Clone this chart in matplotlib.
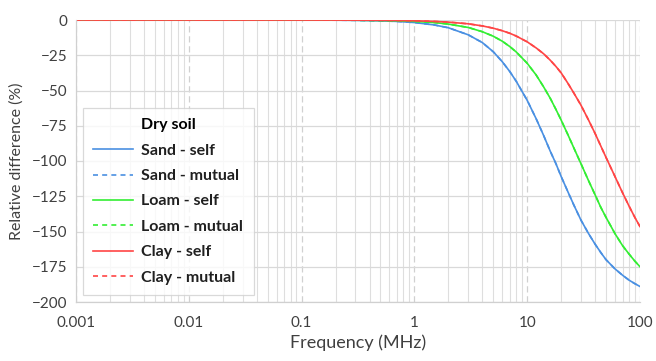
import numpy as np
import matplotlib.pyplot as plt
from matplotlib.ticker import LogLocator

# Frequency grid (MHz) and relative difference (%)
freq = [0.001, 0.003, 0.01, 0.03, 0.1, 0.2, 0.3, 0.5, 0.7, 1, 1.5, 2, 3, 4,
        5, 6, 7, 8, 10, 12, 14, 16, 18, 20, 23, 26, 30, 35, 40, 45, 50, 60,
        70, 80, 90, 100]

sand_self = [0, 0, 0, 0, -0.04, -0.13, -0.25, -0.6, -1.0, -1.8, -3.5, -5.5,
             -10.5, -16, -22.5, -29.5, -36.5, -43.5, -57, -70, -82, -93, -102,
             -111, -122, -131.5, -142, -151.5, -159, -165, -170, -176.5, -181,
             -184.5, -187, -189]
sand_mutual = [0, 0, 0, 0, -0.04, -0.13, -0.25, -0.6, -1.0, -1.8, -3.5, -5.5,
               -10.5, -16, -22.5, -29.5, -36.5, -43.5, -57, -70, -82, -93, -102,
               -111, -122, -131.5, -142, -151.5, -159, -165, -170, -176.5, -181,
               -184.5, -187, -189]
loam_self = [0, 0, 0, 0, -0.03, -0.08, -0.15, -0.33, -0.55, -1.0, -1.8, -2.9,
             -5.3, -8.3, -11.5, -15, -18.8, -22.7, -30.7, -39, -47.5, -55.5,
             -63.5, -71, -81.5, -91, -102, -114, -124, -133, -140, -151.5,
             -160, -166, -171, -175]
loam_mutual = [0, 0, 0, 0, -0.03, -0.08, -0.15, -0.33, -0.55, -1.0, -1.8, -2.9,
               -5.3, -8.3, -11.5, -15, -18.8, -22.7, -30.7, -39, -47.5, -55.5,
               -63.5, -71, -81.5, -91, -102, -114, -124, -133, -140, -151.5,
               -160, -166, -171, -175]
clay_self = [0, 0, 0, 0, -0.02, -0.05, -0.09, -0.19, -0.31, -0.53, -1.0, -1.5,
             -2.7, -4.2, -5.8, -7.6, -9.4, -11.4, -15.5, -19.8, -24, -28.5,
             -33, -37.5, -45, -52, -60.5, -71, -80.5, -89.5, -97.5, -111,
             -122.5, -132, -140, -146.5]
clay_mutual = [0, 0, 0, 0, -0.02, -0.05, -0.09, -0.19, -0.31, -0.53, -1.0, -1.5,
               -2.7, -4.2, -5.8, -7.6, -9.4, -11.4, -15.5, -19.8, -24, -28.5,
               -33, -37.5, -45, -52, -60.5, -71, -80.5, -89.5, -97.5, -111,
               -122.5, -132, -140, -146.5]

xticks = [0.001, 0.01, 0.1, 1, 10, 100]
xticklabels = ['0.001', '0.01', '0.1', '1', '10', '100']
yticks = list(range(0, -201, -25))

plt.rcParams['font.family'] = ['Lato', 'DejaVu Sans']

fig = plt.figure(figsize=(6.56, 3.61), dpi=100)
ax = fig.add_axes([76 / 656, 1 - 302 / 361, 564 / 656, 282 / 361])

blue = '#4a90e2'
green = '#33ee33'
red = '#ff4545'
lw = 1.2
dash = (0, (3, 2.5))

ax.plot(freq, sand_self, color=blue, lw=lw, label='Sand - self')
ax.plot(freq, sand_mutual, color=blue, lw=lw, ls=dash, label='Sand - mutual')
ax.plot(freq, loam_self, color=green, lw=lw, label='Loam - self')
ax.plot(freq, loam_mutual, color=green, lw=lw, ls=dash, label='Loam - mutual')
ax.plot(freq, clay_self, color=red, lw=lw, label='Clay - self')
ax.plot(freq, clay_mutual, color=red, lw=lw, ls=dash, label='Clay - mutual')

ax.set_xscale('log')
ax.set_xlim(0.001, 100)
ax.set_ylim(-200, 0)
ax.set_xticks(xticks)
ax.set_xticklabels(xticklabels)
ax.xaxis.set_minor_locator(LogLocator(base=10, subs=np.arange(2, 10)))
ax.set_yticks(yticks)

ax.grid(which='major', axis='x', color='#d0d0d0', ls=(0, (5, 3)), lw=0.9)
ax.grid(which='minor', axis='x', color='#dedede', ls='-', lw=0.8)
ax.grid(which='major', axis='y', color='#d9d9d9', ls='-', lw=0.9)
ax.set_axisbelow(True)

for side in ['top', 'right']:
    ax.spines[side].set_visible(False)
for side in ['left', 'bottom']:
    ax.spines[side].set_color('#d0d0d0')
    ax.spines[side].set_linewidth(0.9)

ax.tick_params(which='both', length=0, labelsize=11, colors='#404040', pad=6)
ax.tick_params(axis='x', pad=10)
ax.set_xlabel('Frequency (MHz)', fontsize=13, color='#404040', labelpad=3)
ax.set_ylabel('Relative difference (%)', fontsize=11.5, color='#404040', labelpad=6)

leg = ax.legend(loc='lower left', bbox_to_anchor=(0.0124, 0.025), borderaxespad=0,
                title='Dry soil', frameon=True, fancybox=False, edgecolor='#d0d0d0',
                prop={'weight': 'bold', 'size': 11.5}, handlelength=2.45,
                labelspacing=0.7, borderpad=0.65, handletextpad=0.56)
leg.get_title().set_fontweight('bold')
leg.get_title().set_fontsize(11.5)
leg.get_frame().set_linewidth(0.9)
for t in leg.get_texts():
    t.set_color('#202020')

fig.savefig('out.png', dpi=100)
